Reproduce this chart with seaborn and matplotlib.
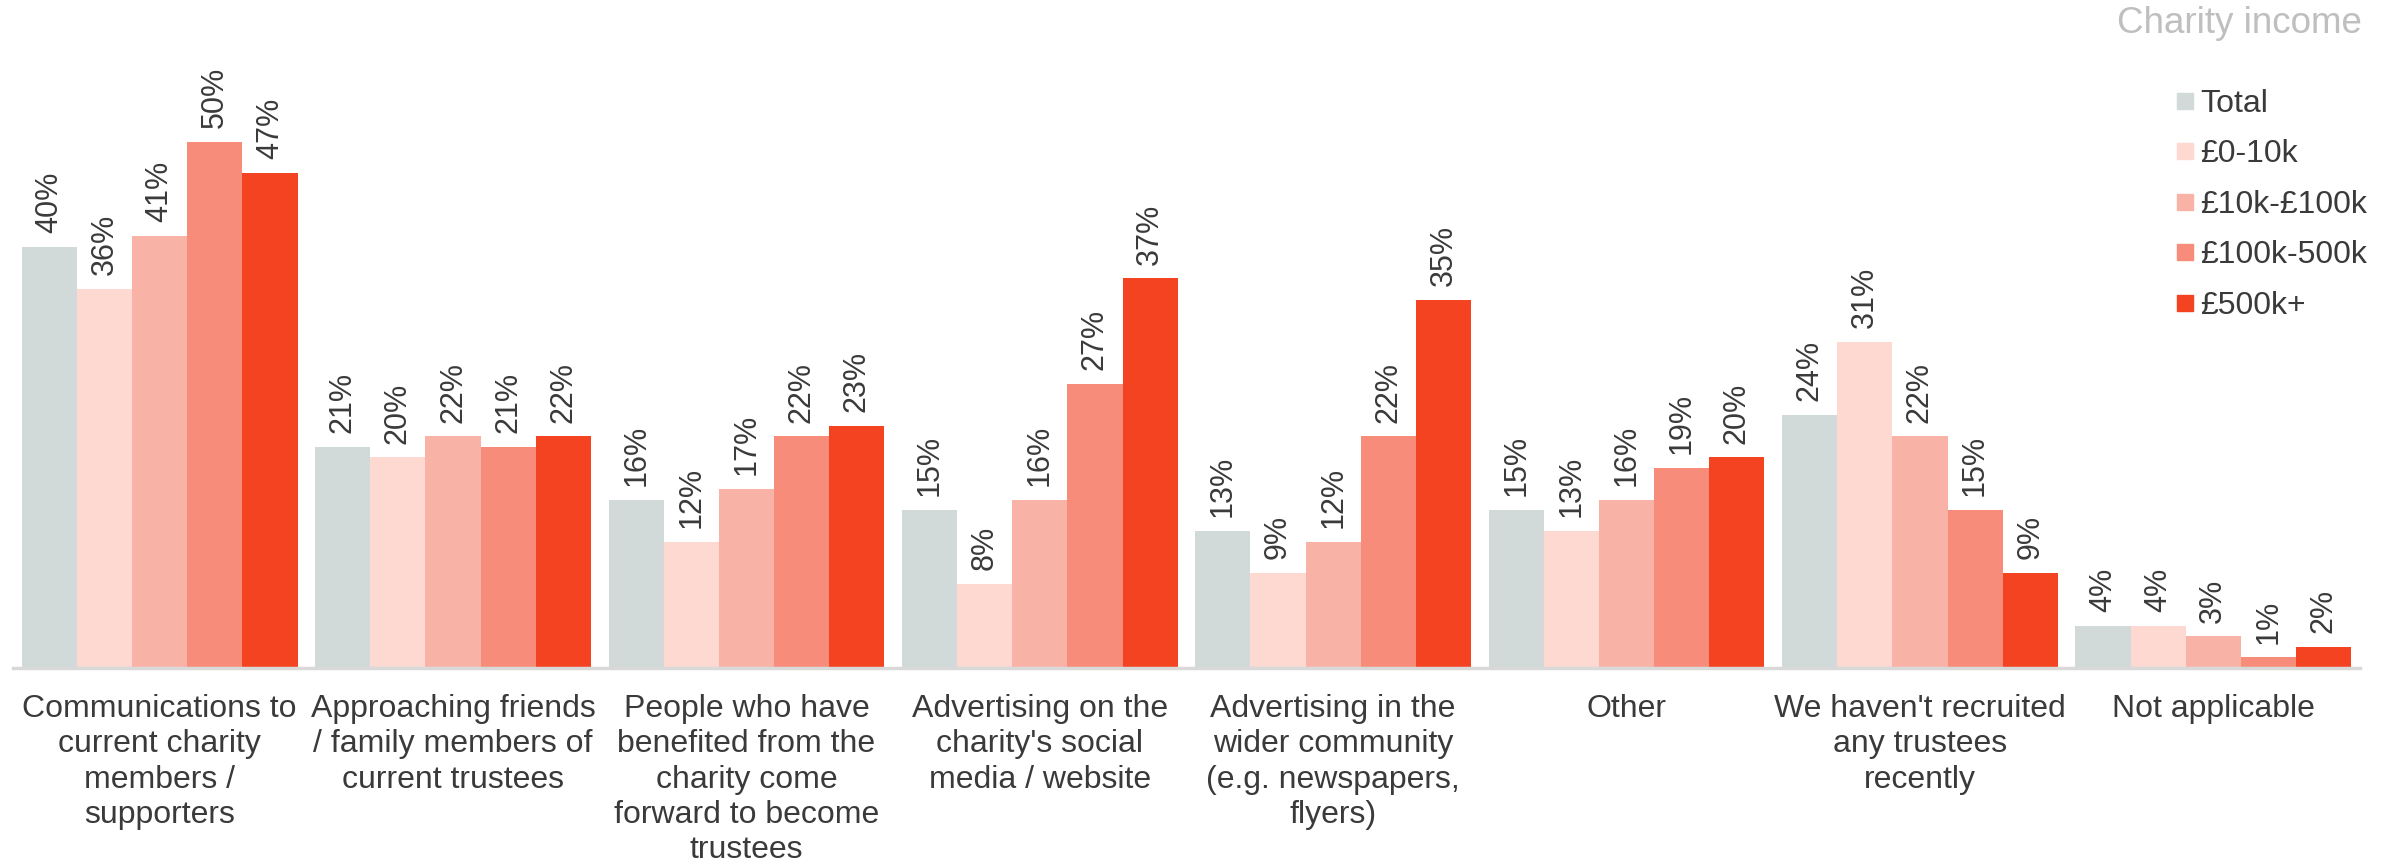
import pandas as pd
import numpy as np
import matplotlib
matplotlib.use("Agg")
import matplotlib.pyplot as plt
import seaborn as sns

# categories (x-axis)
categories = [
    "Communications to\ncurrent charity\nmembers /\nsupporters",
    "Approaching friends\n/ family members of\ncurrent trustees",
    "People who have\nbenefited from the\ncharity come\nforward to become\ntrustees",
    "Advertising on the\ncharity's social\nmedia / website",
    "Advertising in the\nwider community\n(e.g. newspapers,\nflyers)",
    "Other",
    "We haven't recruited\nany trustees\nrecently",
    "Not applicable",
]

# income bands (series)
bands = ["Total", "£0-10k", "£10k-£100k", "£100k-500k", "£500k+"]

total = [40, 21, 16, 15, 13, 15, 24, 4]
inc_0_10k = [36, 20, 12, 8, 9, 13, 31, 4]
inc_10k_100k = [41, 22, 17, 16, 12, 16, 22, 3]
inc_100k_500k = [50, 21, 22, 27, 22, 19, 15, 1]
inc_500k_plus = [47, 22, 23, 37, 35, 20, 9, 2]

colors = ["#d2dad9", "#fdd9d1", "#f9b3a6", "#f78c7a", "#f44321"]
text_col = "#3a3a3a"

series = [total, inc_0_10k, inc_10k_100k, inc_100k_500k, inc_500k_plus]
rows = []
for b, vals in zip(bands, series):
    for c, v in zip(categories, vals):
        rows.append({"category": c, "band": b, "value": v})
df = pd.DataFrame(rows)

sns.set_style("white")
plt.rcParams["font.family"] = ["Liberation Sans", "DejaVu Sans"]

W, H = 2392, 867
fig = plt.figure(figsize=(W / 100, H / 100), dpi=100)
# axes: baseline at y=668px, top at 89px, x from 13 to 2360 px
ax = fig.add_axes([13 / W, 1 - 668 / H, (2360 - 13) / W, (668 - 89) / H])

sns.barplot(data=df, x="category", y="value", hue="band", palette=colors,
            hue_order=bands, order=categories, width=0.94, saturation=1,
            ax=ax, linewidth=0, legend=False)

# value labels
for cont in ax.containers:
    for bar in cont:
        h = bar.get_height()
        ax.annotate(f"{h:.0f}%", (bar.get_x() + bar.get_width() / 2, h),
                    xytext=(0, 10), textcoords="offset points",
                    rotation=90, ha="center", va="bottom",
                    fontsize=22, color=text_col)

ax.set_ylim(0, 55)
ax.set_xlim(-0.5, len(categories) - 0.5)
ax.set_xlabel("")
ax.set_ylabel("")
ax.set_yticks([])
for s in ["top", "right", "left"]:
    ax.spines[s].set_visible(False)
ax.spines["bottom"].set_color("#d9d9d9")
ax.spines["bottom"].set_linewidth(2.5)
ax.tick_params(axis="x", length=0, pad=19, labelsize=23, labelcolor=text_col)
for lab in ax.get_xticklabels():
    lab.set_linespacing(1.22)
    lab.set_ha("center")

# legend
handles = [plt.Line2D([], [], marker="s", linestyle="", markersize=12,
                      markerfacecolor=c, markeredgecolor=c) for c in colors]
leg = fig.legend(handles, bands, loc="upper left",
                 bbox_to_anchor=(2175 / W, 1 - 89 / H),
                 frameon=False, fontsize=23, handletextpad=0.2,
                 labelspacing=0.64, handlelength=0.6, labelcolor=text_col,
                 borderpad=0, borderaxespad=0)

fig.text(2362 / W, 1 - 6 / H, "Charity income", ha="right", va="top",
         fontsize=26.5, color="#bfbfbf")

fig.savefig("out.png", dpi=100)
